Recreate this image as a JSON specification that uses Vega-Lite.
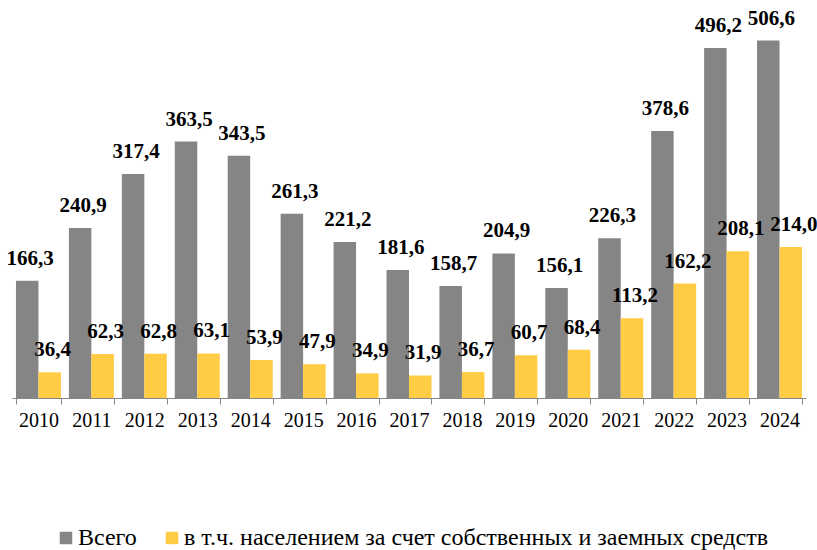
{
  "$schema": "https://vega.github.io/schema/vega-lite/v6.json",
  "width": 794,
  "height": 388,
  "autosize": {"type": "none"},
  "padding": {"left": 12, "top": 10, "right": 11, "bottom": 152},
  "background": "white",
  "config": {
    "view": {"stroke": null},
    "locale": {"number": {"decimal": ",", "thousands": " ", "grouping": [3], "currency": ["", ""]}},
    "font": "Liberation Serif"
  },
  "data": {
    "values": [
      {"year": "2010", "series": "Всего", "value": 166.3},
      {"year": "2011", "series": "Всего", "value": 240.9},
      {"year": "2012", "series": "Всего", "value": 317.4},
      {"year": "2013", "series": "Всего", "value": 363.5},
      {"year": "2014", "series": "Всего", "value": 343.5},
      {"year": "2015", "series": "Всего", "value": 261.3},
      {"year": "2016", "series": "Всего", "value": 221.2},
      {"year": "2017", "series": "Всего", "value": 181.6},
      {"year": "2018", "series": "Всего", "value": 158.7},
      {"year": "2019", "series": "Всего", "value": 204.9},
      {"year": "2020", "series": "Всего", "value": 156.1},
      {"year": "2021", "series": "Всего", "value": 226.3},
      {"year": "2022", "series": "Всего", "value": 378.6},
      {"year": "2023", "series": "Всего", "value": 496.2},
      {"year": "2024", "series": "Всего", "value": 506.6},
      {"year": "2010", "series": "в т.ч. населением за счет собственных и заемных средств", "value": 36.4},
      {"year": "2011", "series": "в т.ч. населением за счет собственных и заемных средств", "value": 62.3},
      {"year": "2012", "series": "в т.ч. населением за счет собственных и заемных средств", "value": 62.8},
      {"year": "2013", "series": "в т.ч. населением за счет собственных и заемных средств", "value": 63.1},
      {"year": "2014", "series": "в т.ч. населением за счет собственных и заемных средств", "value": 53.9},
      {"year": "2015", "series": "в т.ч. населением за счет собственных и заемных средств", "value": 47.9},
      {"year": "2016", "series": "в т.ч. населением за счет собственных и заемных средств", "value": 34.9},
      {"year": "2017", "series": "в т.ч. населением за счет собственных и заемных средств", "value": 31.9},
      {"year": "2018", "series": "в т.ч. населением за счет собственных и заемных средств", "value": 36.7},
      {"year": "2019", "series": "в т.ч. населением за счет собственных и заемных средств", "value": 60.7},
      {"year": "2020", "series": "в т.ч. населением за счет собственных и заемных средств", "value": 68.4},
      {"year": "2021", "series": "в т.ч. населением за счет собственных и заемных средств", "value": 113.2},
      {"year": "2022", "series": "в т.ч. населением за счет собственных и заемных средств", "value": 162.2},
      {"year": "2023", "series": "в т.ч. населением за счет собственных и заемных средств", "value": 208.1},
      {"year": "2024", "series": "в т.ч. населением за счет собственных и заемных средств", "value": 214.0}
    ]
  },
  "encoding": {
    "x": {
      "field": "year",
      "type": "nominal",
      "scale": {"paddingInner": 0.15, "paddingOuter": 0.075},
      "axis": {
        "title": null,
        "labelAngle": 0,
        "labelFont": "Liberation Serif",
        "labelFontSize": 20,
        "labelColor": "black",
        "labelPadding": 6,
        "domainColor": "#888888",
        "tickColor": "#888888",
        "tickBand": "extent",
        "tickSize": 6,
        "domainWidth": 1
      }
    },
    "xOffset": {
      "field": "series",
      "type": "nominal",
      "scale": {"domain": ["Всего", "в т.ч. населением за счет собственных и заемных средств"], "paddingInner": 0, "paddingOuter": 0}
    },
    "y": {
      "field": "value",
      "type": "quantitative",
      "scale": {"domain": [0, 550]},
      "axis": null
    }
  },
  "layer": [
    {
      "mark": {"type": "bar"},
      "encoding": {
        "color": {
          "field": "series",
          "type": "nominal",
          "scale": {
            "domain": ["Всего", "в т.ч. населением за счет собственных и заемных средств"],
            "range": ["#858585", "#FFCC44"]
          },
          "legend": {
            "title": null,
            "orient": "none",
            "direction": "horizontal",
            "legendX": 42,
            "legendY": 516,
            "padding": 0,
            "symbolType": "square",
            "symbolSize": 156,
            "symbolStrokeWidth": 0,
            "symbolOpacity": 1,
            "labelFont": "Liberation Serif",
            "labelFontSize": 24,
            "labelColor": "black",
            "labelLimit": 800,
            "labelOffset": 0,
            "columnPadding": 23
          }
        }
      }
    },
    {
      "mark": {
        "type": "text",
        "font": "Liberation Serif",
        "fontSize": 21,
        "fontWeight": "bold",
        "baseline": "alphabetic",
        "dy": -16,
        "dx": 3,
        "color": "black"
      },
      "encoding": {
        "text": {"field": "value", "type": "quantitative", "format": ".1f"}
      }
    }
  ]
}
